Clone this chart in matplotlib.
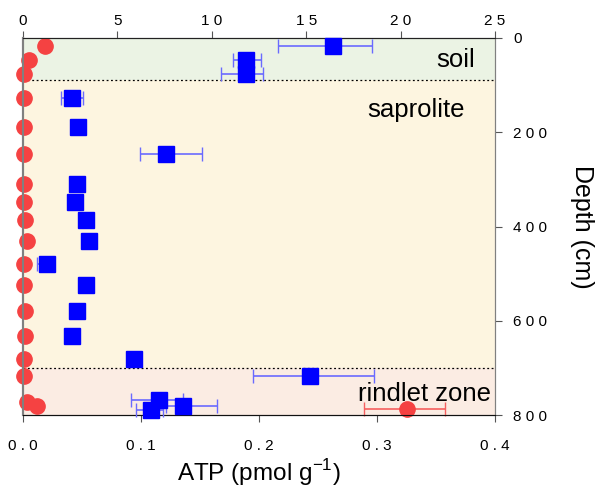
import matplotlib
matplotlib.use("Agg")
import matplotlib.pyplot as plt

plt.rcParams['font.family'] = ['Liberation Sans', 'DejaVu Sans']
plt.rcParams['mathtext.fontset'] = 'custom'
plt.rcParams['mathtext.rm'] = 'Liberation Sans'

# ATP (bottom axis, pmol g-1) vs depth (cm)
atp_depth = [16, 47, 76, 127, 188, 246, 310, 348, 386, 430, 480, 523, 580, 632, 681, 717, 772, 781, 788]
atp_val = [0.0186, 0.0053, 0.001, 0.001, 0.001, 0.001, 0.001, 0.001, 0.002, 0.003,
           0.001, 0.001, 0.0015, 0.0015, 0.001, 0.001, 0.0036, 0.0116, 0.325]
atp_lo = [0] * 18 + [0.036]
atp_hi = [0] * 18 + [0.033]

# top axis series (blue squares)
top_depth = [16, 47, 76, 127, 188, 246, 310, 348, 386, 430, 480, 523, 580, 632, 681, 717, 768, 781, 789]
top_val = [16.4, 11.8, 11.8, 2.6, 2.9, 7.6, 2.86, 2.75, 3.34, 3.5, 1.25, 3.34, 2.86, 2.58, 5.9, 15.2, 7.2, 8.5, 6.8]
top_lo = [2.9, 0.7, 1.3, 0.6, 0, 1.4, 0, 0, 0, 0, 0.5, 0, 0, 0, 0, 3.0, 1.5, 0.9, 0.8]
top_hi = [2.1, 0.8, 0.9, 0.6, 0, 1.9, 0, 0, 0, 0, 0.4, 0, 0, 0, 0, 3.4, 1.3, 1.8, 0.6]

zones = [(0, 90, '#ebf3e4'), (90, 700, '#fdf5e0'), (700, 800, '#fbece3')]
zone_names = ['soil', 'saprolite', 'rindlet zone']
zone_label_x = [0.383, 0.374, 0.397]
zone_label_depth = [47, 152, 755]


def spaced(s):
    return ' '.join(s)


fig = plt.figure(figsize=(5.99, 4.93), dpi=100)
ax = fig.add_axes([0.0384, 0.158, 0.788, 0.765])

for (d0, d1, col) in zones:
    ax.axhspan(d0, d1, color=col, zorder=0, lw=0)
for name, lx, ld in zip(zone_names, zone_label_x, zone_label_depth):
    ax.text(lx, ld, name, ha='right', va='center', fontsize=18.5, zorder=5)
for b in [90, 700]:
    ax.axhline(b, color='black', ls=(0, (1.5, 2)), lw=0.9, zorder=1)

ax.errorbar(atp_val, atp_depth, xerr=[atp_lo, atp_hi], fmt='o', color='#f54242', ms=11,
            ecolor='#f56060', elinewidth=1.2, capsize=5, capthick=1, zorder=3, clip_on=False)

ax.set_xlim(0, 0.4)
ax.set_ylim(800, 0)
ax.set_xticks([0, 0.1, 0.2, 0.3, 0.4])
ax.set_xticklabels([spaced(s) for s in ['0.0', '0.1', '0.2', '0.3', '0.4']])
ax.yaxis.tick_right()
ax.yaxis.set_label_position('right')
ax.set_yticks([0, 200, 400, 600, 800])
ax.set_yticklabels([spaced(s) for s in ['0', '200', '400', '600', '800']])
ax.set_xlabel('ATP (pmol g$^{\\mathregular{-1}}$)', fontsize=17.5, labelpad=3)
ax.set_ylabel('Depth (cm)', fontsize=18, rotation=270, labelpad=34)
ax.tick_params(axis='both', direction='out', length=5, color='#555555', labelsize=11)
ax.tick_params(axis='x', pad=12)
ax.tick_params(axis='y', pad=8)

ax2 = ax.twiny()
ax2.errorbar(top_val, top_depth, xerr=[top_lo, top_hi], fmt='s', color='#0000ff', ms=11.5,
             ecolor='#6a6aff', elinewidth=1.2, capsize=5, capthick=1, zorder=4, clip_on=False)
ax2.set_xlim(0, 25)
ax2.set_xticks([0, 5, 10, 15, 20, 25])
ax2.set_xticklabels([spaced(s) for s in ['0', '5', '10', '15', '20', '25']])
ax2.tick_params(axis='x', direction='out', length=5, color='#555555', labelsize=11, pad=2)

for a in (ax, ax2):
    a.spines['left'].set_color('#808080')
    a.spines['left'].set_linewidth(1.5)
    a.spines['right'].set_color('#808080')
    a.spines['top'].set_color('#222222')
    a.spines['bottom'].set_color('#111111')

fig.savefig('out.png', dpi=100)
